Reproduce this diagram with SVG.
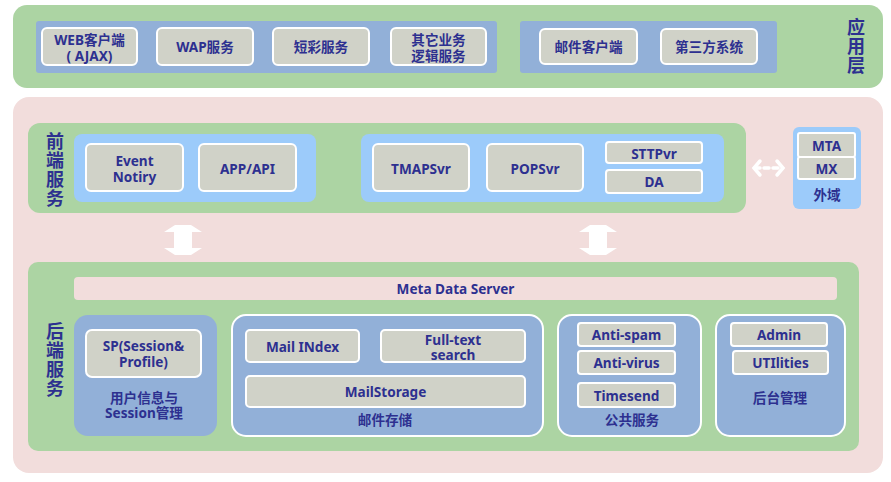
<svg xmlns="http://www.w3.org/2000/svg" width="891" height="482" viewBox="0 0 891 482">
<style>
text{font-family:"Noto Sans","Noto Sans CJK SC",sans-serif;font-weight:bold;fill:#2d3090;text-anchor:middle;dominant-baseline:central}
.t{font-size:13.6px}
.v{font-size:18px;writing-mode:vertical-rl;text-orientation:upright;letter-spacing:1px}
.green{fill:#acd4a3}
.pink{fill:#f2dddc}
.blue{fill:#92b0d8}
.lblue{fill:#9ccbfa}
.box{fill:#d0d2c8;stroke:#ffffff;stroke-width:2}
.grp{fill:#92b0d8;stroke:#ffffff;stroke-width:2}
</style>
<rect width="891" height="482" fill="#ffffff"/>
<g id="app-layer">
<rect class="green" x="13" y="5" width="870" height="83" rx="14"/>
<rect class="blue" x="36" y="21" width="461" height="52" rx="3"/>
<rect class="blue" x="520" y="21" width="257" height="52" rx="3"/>
<text class="v" x="855" y="47">应用层</text>
</g>
<g id="web"><rect class="box" x="42" y="28" width="95" height="37" rx="5"/><text class="t"><tspan x="89.5" y="39">WEB客户端</tspan><tspan x="89.5" y="55">( AJAX)</tspan></text></g>
<g id="wap"><rect class="box" x="157" y="28" width="96" height="37" rx="5"/><text class="t" x="205" y="46.5">WAP服务</text></g>
<g id="sms"><rect class="box" x="273" y="28" width="96" height="37" rx="5"/><text class="t" x="321" y="46.5">短彩服务</text></g>
<g id="other"><rect class="box" x="391" y="28" width="95" height="37" rx="5"/><text class="t"><tspan x="438.5" y="39">其它业务</tspan><tspan x="438.5" y="55">逻辑服务</tspan></text></g>
<g id="mailclient"><rect class="box" x="540" y="29" width="97" height="35" rx="5"/><text class="t" x="588.5" y="46.5">邮件客户端</text></g>
<g id="thirdparty"><rect class="box" x="661" y="29" width="96" height="35" rx="5"/><text class="t" x="709" y="46.5">第三方系统</text></g>

<rect class="pink" x="13" y="97" width="870" height="376" rx="16"/>

<g id="front">
<rect class="green" x="28" y="123" width="718" height="90" rx="12"/>
<rect class="lblue" x="74" y="134" width="242" height="68" rx="8"/>
<rect class="lblue" x="361" y="134" width="363" height="68" rx="8"/>
<text class="v" x="54" y="170">前端服务</text>
</g>
<g id="event"><rect class="box" x="86" y="144" width="97" height="47" rx="5"/><text class="t"><tspan x="134.5" y="160">Event</tspan><tspan x="134.5" y="176">Notiry</tspan></text></g>
<g id="appapi"><rect class="box" x="199" y="144" width="97" height="47" rx="5"/><text class="t" x="247.5" y="168">APP/API</text></g>
<g id="tmapsvr"><rect class="box" x="373" y="144" width="96" height="47" rx="5"/><text class="t" x="421" y="168">TMAPSvr</text></g>
<g id="popsvr"><rect class="box" x="487" y="144" width="96" height="47" rx="5"/><text class="t" x="535" y="168">POPSvr</text></g>
<g id="sttpvr"><rect class="box" x="606" y="142" width="96" height="21" rx="3"/><text class="t" x="654" y="153">STTPvr</text></g>
<g id="da"><rect class="box" x="606" y="170" width="96" height="23" rx="3"/><text class="t" x="654" y="181.5">DA</text></g>

<g id="external">
<rect class="lblue" x="793" y="127" width="68" height="82" rx="6"/>
<rect class="box" x="798" y="133" width="57" height="24" rx="2"/><text class="t" x="826.5" y="145">MTA</text>
<rect class="box" x="798" y="157" width="57" height="22" rx="2"/><text class="t" x="826.5" y="168">MX</text>
<text class="t" x="827" y="194">外域</text>
</g>

<g id="back">
<rect class="green" x="28" y="262" width="831" height="189" rx="10"/>
<text class="v" x="54" y="360">后端服务</text>
</g>
<g id="meta"><rect class="pink" x="74" y="277" width="763" height="23" rx="4"/><text class="t" x="455.5" y="288.5">Meta Data Server</text></g>

<g id="sp-group">
<rect class="blue" x="74" y="315" width="143" height="121" rx="14"/>
<rect class="box" x="86" y="330" width="115" height="47" rx="6"/>
<text class="t"><tspan x="143.5" y="345">SP(Session&amp;</tspan><tspan x="143.5" y="361">Profile)</tspan></text>
<text class="t"><tspan x="144" y="397">用户信息与</tspan><tspan x="144" y="412">Session管理</tspan></text>
</g>
<g id="mail-group">
<rect class="grp" x="232" y="315" width="311" height="121" rx="14"/>
<rect class="box" x="246" y="330" width="113" height="32" rx="4"/><text class="t" x="302.5" y="346">Mail INdex</text>
<rect class="box" x="381" y="330" width="144" height="32" rx="4"/><text class="t"><tspan x="453" y="338.5">Full-text</tspan><tspan x="453" y="354">search</tspan></text>
<rect class="box" x="246" y="376" width="279" height="31" rx="4"/><text class="t" x="385.5" y="391.5">MailStorage</text>
<text class="t" x="385" y="419">邮件存储</text>
</g>
<g id="public-group">
<rect class="grp" x="558" y="315" width="143" height="121" rx="14"/>
<rect class="box" x="578" y="323" width="97" height="23" rx="3"/><text class="t" x="626.5" y="334.5">Anti-spam</text>
<rect class="box" x="578" y="351" width="97" height="23" rx="3"/><text class="t" x="626.5" y="362.5">Anti-virus</text>
<rect class="box" x="578" y="383" width="97" height="24" rx="3"/><text class="t" x="626.5" y="395">Timesend</text>
<text class="t" x="632" y="419">公共服务</text>
</g>
<g id="admin-group">
<rect class="grp" x="716" y="315" width="129" height="121" rx="14"/>
<rect class="box" x="731" y="323" width="96" height="23" rx="3"/><text class="t" x="779" y="334.5">Admin</text>
<rect class="box" x="733" y="351" width="95" height="23" rx="3"/><text class="t" x="780.5" y="362.5">UTIlities</text>
<text class="t" x="780" y="397">后台管理</text>
</g>

<g id="connectors" fill="#ffffff" stroke="none">
<polygon points="175,225 191,225 202,232 192,232 192,248 202,248 191,255 175,255 164,248 174,248 174,232 164,232"/>
<polygon points="590,225 606,225 617,232 607,232 607,248 617,248 606,255 590,255 579,248 589,248 589,232 579,232"/>
<g stroke="#ffffff" stroke-width="3.5" fill="none" stroke-linecap="round">
<path d="M760,161 L754,168 L760,175"/>
<path d="M777,161 L783,168 L777,175"/>
<path d="M755,168 H782" stroke-dasharray="5 4"/>
</g>
</g>
</svg>
